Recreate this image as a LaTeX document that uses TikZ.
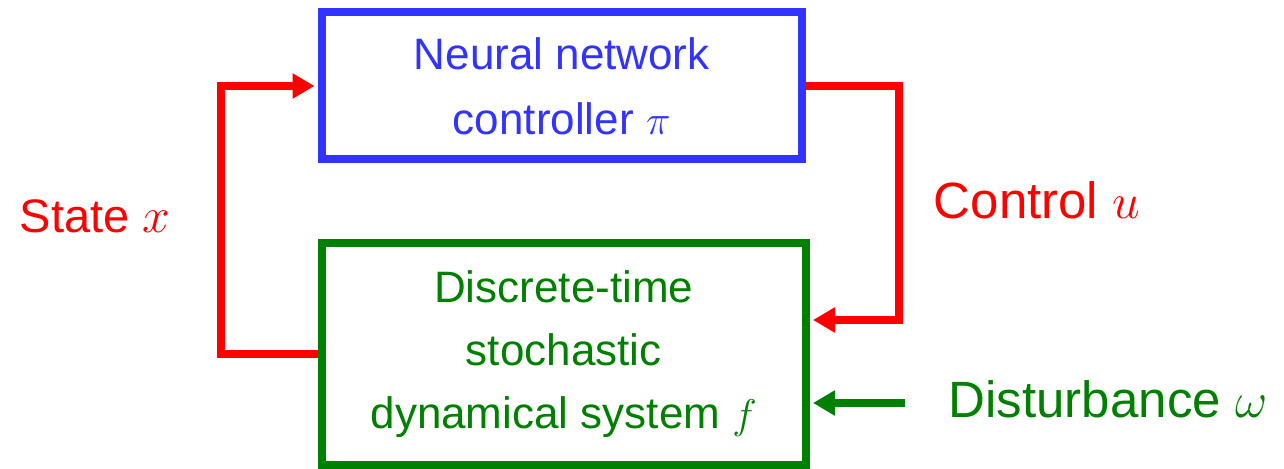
\documentclass[tikz,border=0pt]{standalone}
\usepackage{fontspec}
\setmainfont{Liberation Sans}
\usetikzlibrary{arrows.meta}
\definecolor{myred}{RGB}{255,0,0}
\definecolor{myblue}{RGB}{51,51,255}
\definecolor{mygreen}{RGB}{0,128,0}
\tikzset{
  ctrlbox/.style={draw=myblue, line width=4pt, minimum width=240.25pt, minimum height=73.5pt, inner sep=0pt, text=myblue, align=center, font=\fontsize{22}{32.5}\selectfont},
  sysbox/.style={draw=mygreen, line width=4pt, minimum width=242.25pt, minimum height=110.75pt, inner sep=0pt, text=mygreen, align=center, font=\fontsize{22}{31.5}\selectfont},
  redline/.style={draw=myred, line width=4pt, -{Triangle[length=11pt,width=12pt]}, shorten >=1.5pt},
  greenline/.style={draw=mygreen, line width=4pt, -{Triangle[length=11pt,width=12pt]}, shorten >=1.5pt},
  lbl/.style={anchor=base, inner sep=0pt}
}
\begin{document}
\begin{tikzpicture}[x=0.5pt,y=-0.5pt]
\useasboundingbox (0,0) rectangle (1284,469);
\node[ctrlbox] (nn) at (561.75,86) {Neural network\\controller $\pi$};
\node[sysbox] (sys) at (563.75,354.25) {Discrete-time\\stochastic\\dynamical system $f$};
\coordinate (lc) at (221,86);
\coordinate (rc) at (899,320);
\coordinate (dist) at (905,403);
\draw[redline] (sys.west) -| (lc) -- (nn.west);
\draw[redline] (nn.east) -| (rc) -- (rc -| sys.east);
\draw[greenline] (dist) -- (dist -| sys.east);
\node[lbl, text=myred, font=\fontsize{23.5}{28}\selectfont] (state) at (95,233) {State $x$};
\node[lbl, text=myred, font=\fontsize{25.5}{30}\selectfont] (ctrl) at (1037,219) {Control $u$};
\node[lbl, text=mygreen, font=\fontsize{25.5}{30}\selectfont] (dist-l) at (1108,418) {Disturbance $\omega$};
\end{tikzpicture}
\end{document}
